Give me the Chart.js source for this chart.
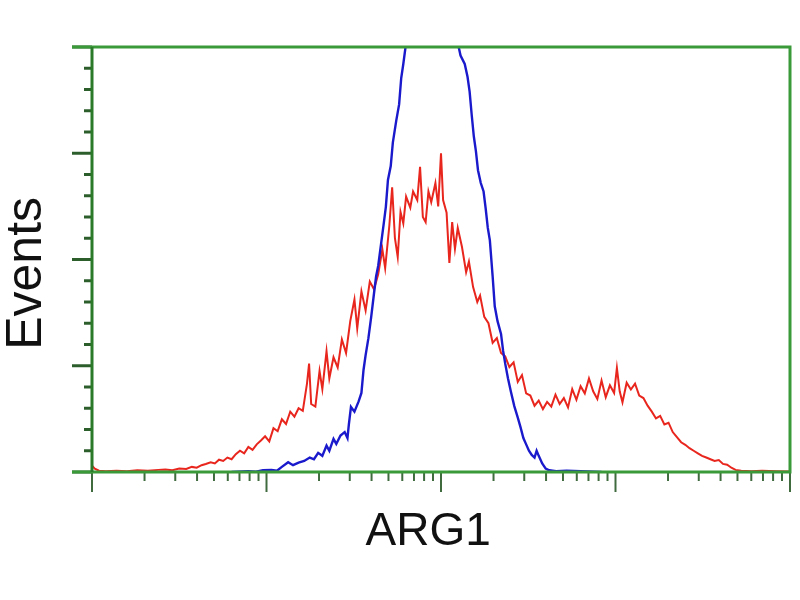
<!DOCTYPE html>
<html>
<head>
<meta charset="utf-8">
<script src="https://cdn.jsdelivr.net/npm/chart.js@4"></script>
<style>
  html, body { margin: 0; padding: 0; background: #fff; }
  #wrap { width: 800px; height: 600px; }
</style>
</head>
<body>
<div id="wrap"><canvas id="chart" width="800" height="600"></canvas></div>
<script>
// x: channel 0-1000 over 4 log decades, y: events scaled 0-100
const redChannel = [0, 4, 10, 20, 35, 50, 65, 80, 95, 105, 115, 125, 135, 143, 150, 157, 163, 170, 176, 182, 188, 194, 200, 206, 212, 218, 224, 230, 236, 242, 248, 254, 260, 266, 272, 278, 284, 290, 296, 302, 308, 311, 314, 320, 326, 330, 336, 340, 346, 352, 358, 364, 370, 376, 380, 386, 392, 398, 404, 410, 416, 420, 426, 430, 434, 438, 442, 446, 450, 456, 460, 466, 470, 474, 478, 482, 486, 492, 496, 500, 503, 508, 512, 516, 520, 524, 530, 536, 540, 546, 552, 556, 562, 568, 574, 580, 586, 592, 598, 604, 610, 616, 622, 628, 634, 640, 646, 652, 658, 664, 670, 676, 682, 688, 694, 700, 706, 712, 718, 724, 730, 736, 742, 748, 752, 756, 760, 766, 772, 778, 784, 790, 796, 802, 808, 814, 820, 826, 832, 838, 844, 850, 856, 862, 868, 874, 880, 886, 892, 898, 904, 910, 916, 922, 930, 945, 960, 980, 1000];
const redEvents = [1.5, 0.8, 0.3, 0.2, 0.3, 0.2, 0.4, 0.3, 0.5, 0.6, 0.4, 0.8, 0.7, 1.2, 1.0, 1.6, 1.9, 2.3, 2.0, 2.9, 2.6, 3.4, 3.0, 4.2, 5.0, 4.4, 5.9, 5.2, 6.5, 7.4, 8.4, 7.2, 10.3, 9.6, 12.4, 11.3, 14.2, 13.0, 15.0, 14.4, 20.8, 25.5, 16.0, 15.4, 23.8, 19.5, 28.4, 22.0, 27.0, 24.6, 31.2, 28.0, 35.5, 40.6, 33.8, 42.5, 38.0, 44.8, 43.0, 46.5, 52.4, 48.0, 58.0, 67.0, 55.0, 50.6, 61.2, 58.5, 64.8, 62.2, 66.0, 64.0, 71.8, 60.0, 58.8, 66.0, 63.5, 68.0, 62.5, 75.0, 64.0, 61.0, 49.2, 58.8, 52.5, 57.4, 53.0, 47.0, 49.5, 43.5, 40.0, 41.5, 36.5, 35.0, 30.4, 31.5, 28.0, 27.2, 24.7, 25.8, 21.2, 22.8, 18.5, 18.0, 15.6, 16.8, 14.8, 16.5, 15.4, 18.2, 16.0, 17.4, 15.2, 19.5, 17.0, 20.2, 18.5, 22.0, 19.0, 17.2, 21.5, 17.6, 20.4, 18.6, 24.5, 19.0, 16.4, 21.0, 19.4, 20.8, 18.0, 17.4, 15.6, 14.2, 12.6, 13.2, 11.2, 11.6, 9.4, 8.2, 7.0, 6.4, 5.6, 5.0, 4.4, 3.8, 3.4, 3.0, 2.6, 2.8, 1.9, 1.7, 1.0, 0.5, 0.3, 0.2, 0.3, 0.2, 0.1];

const blueChannel = [200, 224, 235, 245, 257, 265, 272, 281, 288, 296, 304, 312, 318, 324, 330, 336, 340, 346, 350, 356, 362, 366, 368, 371, 376, 382, 386, 389, 392, 396, 400, 404, 407, 410, 414, 418, 421, 424, 428, 431, 436, 440, 443, 446, 450, 456, 467, 481, 496, 510, 521, 524, 528, 534, 538, 541, 544, 547, 550, 553, 557, 561, 564, 567, 570, 574, 577, 581, 586, 589, 592, 596, 600, 605, 610, 614, 618, 622, 626, 630, 634, 637, 640, 645, 650, 655, 665, 680, 700, 720, 730];
const blueEvents = [0, 0.2, 0.1, 0.4, 0.5, 0.3, 1.2, 2.3, 1.6, 2.2, 2.6, 3.4, 3.0, 4.5, 3.8, 6.2, 5.0, 7.8, 6.6, 8.6, 9.4, 8.0, 11.2, 15.3, 14.2, 16.6, 18.6, 24.0, 27.5, 31.5, 36.5, 42.0, 46.0, 48.5, 53.5, 58.5, 62.4, 68.7, 72.0, 77.5, 82.8, 86.5, 92.7, 96.0, 101, 108, 115, 120, 118, 112, 106, 101, 98.0, 96.0, 93.0, 89.5, 84.0, 79.0, 75.5, 71.0, 68.0, 66.0, 62.0, 57.5, 54.5, 46.0, 39.0, 35.5, 32.5, 28.5, 25.5, 22.0, 19.0, 15.5, 12.8, 10.5, 8.0, 6.5, 5.0, 4.0, 3.4, 5.0, 3.8, 2.0, 0.8, 0.4, 0.2, 0.3, 0.2, 0.1, 0];

const decadeTicks = [0, 250, 500, 750, 1000];
const eventTicks = [0, 25, 50, 75, 100];

const toPoints = (xs, ys) => xs.map((x, i) => ({ x: x, y: ys[i] }));

// frame and tick marks drawn from the scales
const frameTicks = {
  id: 'frameTicks',
  afterDatasetsDraw(chart) {
    const { ctx, chartArea: a, scales } = chart;
    const xs = scales.x, ys = scales.y;
    ctx.save();
    ctx.lineCap = 'butt';

    // y ticks: majors every 25, minors every 5
    ctx.strokeStyle = '#2c5e2c';
    ctx.lineWidth = 3;
    for (let v = 0; v <= 100; v += 5) {
      const py = ys.getPixelForValue(v);
      const len = eventTicks.includes(v) ? 20 : 8;
      ctx.beginPath();
      ctx.moveTo(a.left - len, py);
      ctx.lineTo(a.left, py);
      ctx.stroke();
    }

    // x ticks: decades long, log minors short
    ctx.strokeStyle = '#3f6b3f';
    ctx.lineWidth = 2;
    decadeTicks.forEach((d, i) => {
      const px = xs.getPixelForValue(d);
      ctx.beginPath();
      ctx.moveTo(px, a.bottom);
      ctx.lineTo(px, a.bottom + 20);
      ctx.stroke();
      if (i < decadeTicks.length - 1) {
        for (let k = 2; k <= 9; k++) {
          const mx = xs.getPixelForValue(d + 250 * Math.log10(k));
          ctx.beginPath();
          ctx.moveTo(mx, a.bottom);
          ctx.lineTo(mx, a.bottom + 9);
          ctx.stroke();
        }
      }
    });

    // frame
    ctx.lineWidth = 3;
    ctx.strokeStyle = '#3a9a3a';
    ctx.beginPath();
    ctx.moveTo(a.left - 20, a.top);
    ctx.lineTo(a.right, a.top);
    ctx.lineTo(a.right, a.bottom);
    ctx.lineTo(a.left - 20, a.bottom);
    ctx.stroke();
    ctx.strokeStyle = '#2a7a2a';
    ctx.beginPath();
    ctx.moveTo(a.left, a.top);
    ctx.lineTo(a.left, a.bottom);
    ctx.stroke();
    ctx.restore();
  }
};

new Chart(document.getElementById('chart'), {
  type: 'line',
  data: {
    datasets: [
      {
        label: 'blue',
        data: toPoints(blueChannel, blueEvents),
        borderColor: '#1a1acc',
        borderWidth: 2.4,
        pointRadius: 0,
        tension: 0,
        order: 0
      },
      {
        label: 'red',
        data: toPoints(redChannel, redEvents),
        borderColor: '#e8261e',
        borderWidth: 2,
        pointRadius: 0,
        tension: 0,
        order: 1
      }
    ]
  },
  options: {
    responsive: false,
    animation: false,
    layout: { padding: { left: 0, top: 47, right: 10, bottom: 0 } },
    plugins: { legend: { display: false }, tooltip: { enabled: false } },
    scales: {
      x: {
        type: 'linear',
        min: 0,
        max: 1000,
        ticks: { display: false },
        grid: { display: false, drawTicks: false },
        border: { display: false },
        title: {
          display: true,
          text: 'ARG1  ',
          color: '#111',
          font: { family: 'Liberation Sans, Arial, sans-serif', size: 46, lineHeight: 1.1 },
          padding: { top: 34.7, bottom: 42.7 }
        }
      },
      y: {
        min: 0,
        max: 100,
        ticks: { display: false },
        grid: { display: false, drawTicks: false },
        border: { display: false },
        title: {
          display: true,
          text: 'Events  ',
          color: '#111',
          font: { family: 'Liberation Sans, Arial, sans-serif', size: 50, lineHeight: 1.1 },
          padding: { top: 0, bottom: 37 }
        }
      }
    }
  },
  plugins: [frameTicks]
});
</script>
</body>
</html>
